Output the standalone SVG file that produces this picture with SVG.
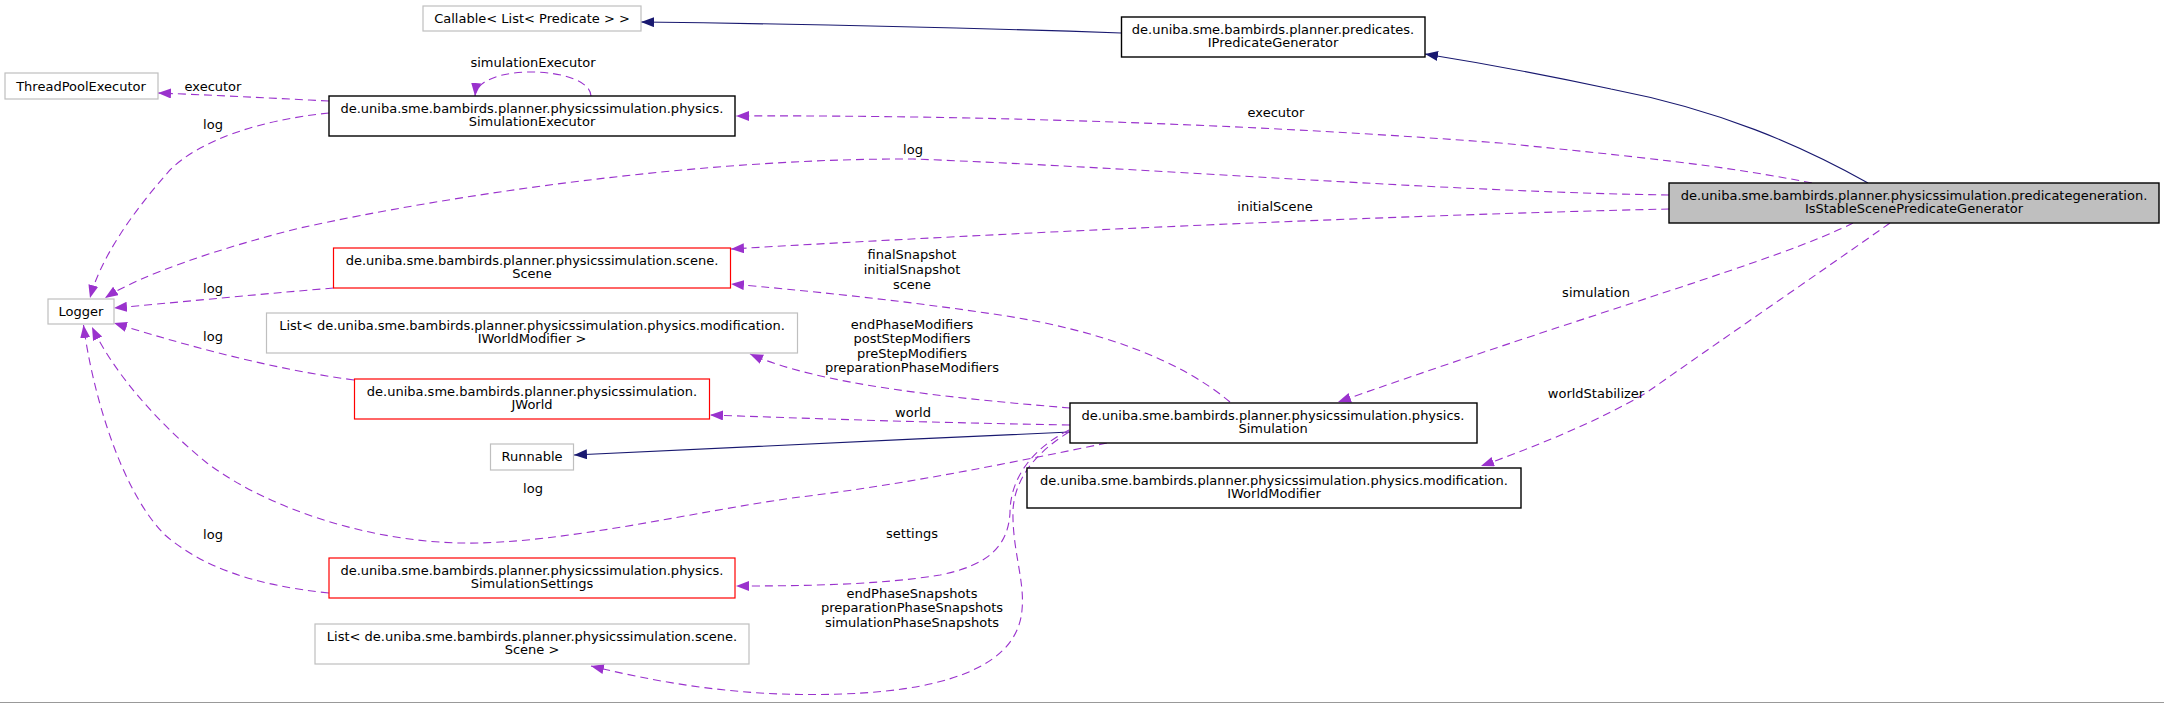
<svg xmlns="http://www.w3.org/2000/svg" width="2164" height="703" viewBox="0 0 2164 703">
<style>
text{font-family:"DejaVu Sans","Liberation Sans",sans-serif;font-size:13px;fill:#000;text-anchor:middle}
.nb{fill:#fff;stroke-width:1.2}
.gray{stroke:#bfbfbf}
.red{stroke:#ff0000}
.doc{stroke:#000;stroke-width:1.4}
.main{fill:#bfbfbf;stroke:#000}
.d{fill:none;stroke:#9a32cd;stroke-width:1.1;stroke-dasharray:8,5;marker-end:url(#ap)}
.s{fill:none;stroke:#191970;stroke-width:1.1;marker-end:url(#ab)}
</style>
<defs>
<marker id="ap" markerUnits="userSpaceOnUse" markerWidth="14" markerHeight="11" refX="13" refY="5" orient="auto"><path d="M0,0 L13,5 L0,10 z" fill="#9a32cd"/></marker>
<marker id="ab" markerUnits="userSpaceOnUse" markerWidth="14" markerHeight="11" refX="13" refY="5" orient="auto"><path d="M0,0 L13,5 L0,10 z" fill="#191970"/></marker>
</defs>
<rect x="0" y="0" width="2164" height="703" fill="#fff"/>
<line x1="0" y1="702.5" x2="2164" y2="702.5" stroke="#999" stroke-width="1"/>

<g id="edges">
<path class="s" d="M1868,183 C1800,145 1720,110 1611,89 C1560,78 1500,66 1425,54"/>
<path class="s" d="M1121,33 C950,27 800,24 641,22"/>
<path class="d" d="M1812,183 C1720,165 1640,157 1500,143 C1200,120 900,115 736,116"/>
<text x="1276" y="117">executor</text>
<path class="d" d="M1669,195 C1450,192 1150,168 913,159 C700,158 450,195 300,228 C220,248 140,275 105,298"/>
<text x="913" y="154">log</text>
<path class="d" d="M1669,209 C1400,215 1000,233 731,249"/>
<text x="1275" y="210.5">initialScene</text>
<path class="d" d="M1853,223 C1780,260 1600,310 1338,402"/>
<text x="1596" y="296.5">simulation</text>
<path class="d" d="M1890,223 C1809,280 1727,336 1646,393 C1600,420 1540,445 1481,466"/>
<text x="1596" y="397.5">worldStabilizer</text>
<path class="d" d="M329,101 C270,98 210,95 158,93"/>
<text x="213" y="91">executor</text>
<path class="d" d="M591,96 C590,66 478,62 475,96"/>
<text x="533" y="66.5">simulationExecutor</text>
<path class="d" d="M329,113 C260,120 200,140 170,170 C130,215 100,260 90,298"/>
<text x="213" y="129">log</text>
<path class="d" d="M333.5,288 C250,295 170,303 114,308"/>
<text x="213" y="292.5">log</text>
<path class="d" d="M354,380 C280,370 200,350 114,323"/>
<text x="213" y="341">log</text>
<path class="d" d="M1230,402 C1180,360 1100,330 1000,315 C900,300 800,290 731,284"/>
<text x="912" y="258.5">finalSnapshot</text>
<text x="912" y="273.5">initialSnapshot</text>
<text x="912" y="288.5">scene</text>
<path class="d" d="M1070,408 C950,398 820,385 750,354"/>
<text x="912" y="328.5">endPhaseModifiers</text>
<text x="912" y="343">postStepModifiers</text>
<text x="912" y="357.5">preStepModifiers</text>
<text x="912" y="372">preparationPhaseModifiers</text>
<path class="d" d="M1070,425 C900,422 800,418 710,415"/>
<text x="913" y="417">world</text>
<path class="s" d="M1070,432 C900,440 700,448 574,455"/>
<path class="d" d="M1107,443 C1000,465 900,485 800,497 C700,510 560,545 460,543 C370,541 270,510 207,463 C160,425 115,375 92,327"/>
<text x="533" y="492.5">log</text>
<path class="d" d="M1069,430 C1030,450 1010,480 1010,513 C1008,545 990,565 940,575 C880,585 800,586 736,586"/>
<text x="912" y="537.5">settings</text>
<path class="d" d="M1069,432 C1040,450 1015,475 1013,510 C1012,550 1025,580 1022,610 C1018,660 960,690 842,694 C760,697 680,688 591,666"/>
<text x="912" y="597.5">endPhaseSnapshots</text>
<text x="912" y="612">preparationPhaseSnapshots</text>
<text x="912" y="626.5">simulationPhaseSnapshots</text>
<path class="d" d="M329,593 C250,585 200,565 165,535 C120,490 92,390 83.5,325"/>
<text x="213" y="538.5">log</text>
</g>

<g id="IsStableScenePredicateGenerator">
<rect class="main" x="1669" y="183" width="490" height="40" stroke-width="1.4"/>
<text x="1914" y="199.5">de.uniba.sme.bambirds.planner.physicssimulation.predicategeneration.</text>
<text x="1914" y="213">IsStableScenePredicateGenerator</text>
</g>
<g id="IPredicateGenerator">
<rect class="nb doc" x="1121.5" y="17" width="303.5" height="40"/>
<text x="1273" y="33.5">de.uniba.sme.bambirds.planner.predicates.</text>
<text x="1273" y="47">IPredicateGenerator</text>
</g>
<g id="Callable">
<rect class="nb gray" x="423" y="6" width="218" height="25"/>
<text x="532" y="22.5">Callable&lt; List&lt; Predicate &gt; &gt;</text>
</g>
<g id="ThreadPoolExecutor">
<rect class="nb gray" x="5" y="73" width="153" height="26"/>
<text x="81" y="90.5">ThreadPoolExecutor</text>
</g>
<g id="SimulationExecutor">
<rect class="nb doc" x="329" y="96" width="406" height="40"/>
<text x="532" y="112.5">de.uniba.sme.bambirds.planner.physicssimulation.physics.</text>
<text x="532" y="126">SimulationExecutor</text>
</g>
<g id="Logger">
<rect class="nb gray" x="48" y="299" width="66" height="25"/>
<text x="81" y="315.5">Logger</text>
</g>
<g id="Scene">
<rect class="nb red" x="333.5" y="248" width="397" height="40"/>
<text x="532" y="264.5">de.uniba.sme.bambirds.planner.physicssimulation.scene.</text>
<text x="532" y="278">Scene</text>
</g>
<g id="ListIWorldModifier">
<rect class="nb gray" x="266.5" y="313" width="531" height="40"/>
<text x="532" y="329.5">List&lt; de.uniba.sme.bambirds.planner.physicssimulation.physics.modification.</text>
<text x="532" y="343">IWorldModifier &gt;</text>
</g>
<g id="JWorld">
<rect class="nb red" x="354.5" y="379" width="355" height="40"/>
<text x="532" y="395.5">de.uniba.sme.bambirds.planner.physicssimulation.</text>
<text x="532" y="409">JWorld</text>
</g>
<g id="Runnable">
<rect class="nb gray" x="490.5" y="444" width="83" height="26"/>
<text x="532" y="461">Runnable</text>
</g>
<g id="SimulationSettings">
<rect class="nb red" x="329" y="558" width="406" height="40"/>
<text x="532" y="574.5">de.uniba.sme.bambirds.planner.physicssimulation.physics.</text>
<text x="532" y="588">SimulationSettings</text>
</g>
<g id="ListScene">
<rect class="nb gray" x="315" y="624" width="434" height="40"/>
<text x="532" y="640.5">List&lt; de.uniba.sme.bambirds.planner.physicssimulation.scene.</text>
<text x="532" y="654">Scene &gt;</text>
</g>
<g id="Simulation">
<rect class="nb doc" x="1070" y="403" width="407" height="40"/>
<text x="1273" y="419.5">de.uniba.sme.bambirds.planner.physicssimulation.physics.</text>
<text x="1273" y="433">Simulation</text>
</g>
<g id="IWorldModifier">
<rect class="nb doc" x="1027" y="468" width="494" height="40"/>
<text x="1274" y="484.5">de.uniba.sme.bambirds.planner.physicssimulation.physics.modification.</text>
<text x="1274" y="498">IWorldModifier</text>
</g>
</svg>
